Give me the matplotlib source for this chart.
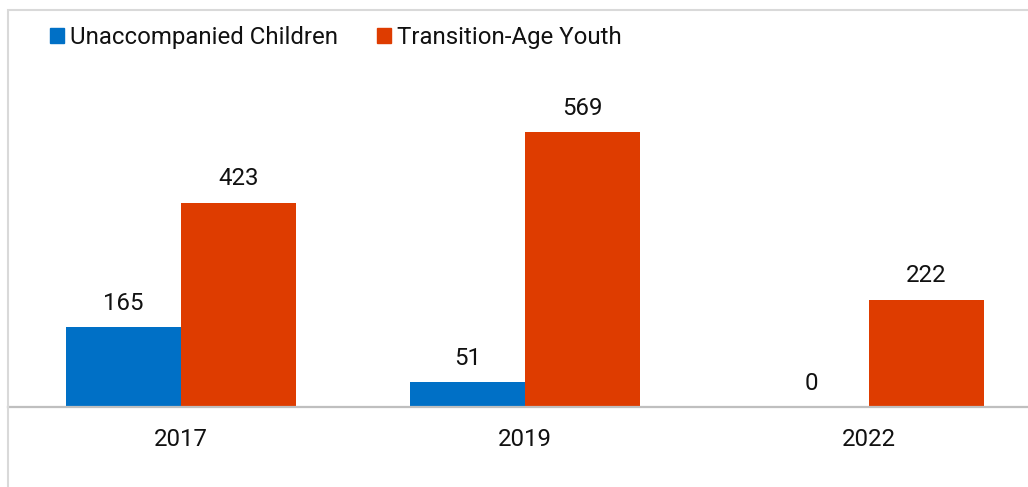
import matplotlib.pyplot as plt
from matplotlib.patches import Patch, Rectangle
import numpy as np

plt.rcParams['font.family'] = ['Roboto', 'DejaVu Sans']

years = ["2017", "2019", "2022"]
unaccompanied = [165, 51, 0]
transition = [423, 569, 222]

blue = "#0070c6"
red = "#de3c00"
fs = 17.3

W, H = 1028, 487
fig = plt.figure(figsize=(W / 100, H / 100), dpi=100)

# light frame around the chart area (left/top edges visible)
fig.patches.append(Rectangle((8 / W, -0.1), 1.1, (H - 10) / H + 0.1, transform=fig.transFigure,
                             fill=False, edgecolor="#d9d9d9", linewidth=1.5, zorder=0))

ax = fig.add_axes([8 / W, 1 - 407 / H, 1 - 8 / W, (407 - 100) / H])
x = np.arange(len(years))
bw = 0.333
b1 = ax.bar(x - bw / 2, unaccompanied, bw, color=blue, label="Unaccompanied Children")
b2 = ax.bar(x + bw / 2, transition, bw, color=red, label="Transition-Age Youth")
ax.bar_label(b1, padding=9, fontsize=fs, color="#111111")
ax.bar_label(b2, padding=9, fontsize=fs, color="#111111")

ax.set_xlim((8 - 181) / 344, (1028 - 181) / 344)
ax.set_ylim(0, 307 / 0.4833)
ax.set_xticks(x)
ax.set_xticklabels(years, fontsize=fs, color="#111111")
ax.tick_params(axis="x", length=0, pad=15)
ax.set_yticks([])
for s in ["top", "right", "left"]:
    ax.spines[s].set_visible(False)
ax.spines["bottom"].set_color("#bfbfbf")
ax.spines["bottom"].set_linewidth(1.6)
ax.patch.set_alpha(0)

handles = [Patch(color=blue), Patch(color=red)]
fig.legend(handles, ["Unaccompanied Children", "Transition-Age Youth"],
           loc="upper left", bbox_to_anchor=(50 / W, 1 - 26 / H), ncol=2,
           frameon=False, fontsize=fs, handlelength=0.6, handleheight=0.6,
           handletextpad=0.25, columnspacing=1.6, borderpad=0, borderaxespad=0,
           labelcolor="#111111")

fig.savefig("out.png", dpi=100)
